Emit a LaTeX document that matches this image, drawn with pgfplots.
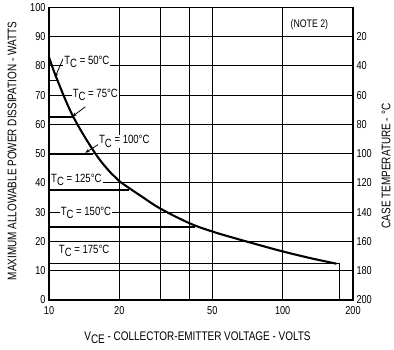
\documentclass[border=0pt]{standalone}
\usepackage{fontspec}
\setmainfont{Liberation Sans}[FakeStretch=0.8]
\usepackage{pgfplots}
\pgfplotsset{compat=1.18}
\usetikzlibrary{arrows.meta}
\pgfplotstableread{
V P
10 83
10.8 75.6
12.7 62.6
15.8 50
18.4 43.4
20 40.6
25 35.3
30 31.2
40 26.2
50 23.4
60 21.5
80 18.7
100 16.6
131.5 14.3
170 12.4
}\curve
\begin{document}
\begin{tikzpicture}
\begin{axis}[
  at={(0,0)}, anchor=south west,
  scale only axis, width=304bp, height=292.7bp,
  xmode=log, xmin=10, xmax=200, ymin=0, ymax=100,
  xtick={10,20,30,40,50,100,200}, xticklabels={10,20,,,50,100,200},
  ytick={0,10,...,100},
  xtick pos=bottom, ytick pos=left,
  grid=major, major grid style={black, line width=0.9pt},
  axis line style={black, line width=1.5pt},
  tick style={draw=none},
  ticklabel style={font=\fontsize{11.5}{12}\selectfont},
  /pgf/number format/assume math mode=true,
  xticklabel style={yshift=-3bp},
  clip=false,
]
\addplot[black, line width=2.1pt, smooth, tension=0.6] table[x=V,y=P] {\curve};
\addplot[black, line width=1.8pt] coordinates {(10,75) (10.85,75)};
\addplot[black, line width=1.8pt] coordinates {(10,62.5) (12.75,62.5)};
\addplot[black, line width=1.8pt] coordinates {(10,50) (15.4,50)};
\addplot[black, line width=1.8pt] coordinates {(10,37.5) (22,37.5)};
\addplot[black, line width=1.8pt] coordinates {(10,25) (42,25)};
\addplot[black, line width=1.8pt] coordinates {(10,12.5) (175,12.5) (175,0)};
\draw[line width=0.8pt, -{Stealth[length=4.5pt,width=3.5pt]}] (axis cs:11.65,83.5) -- (axis cs:10.6,76);
\draw[line width=0.8pt, -{Stealth[length=4.5pt,width=3.5pt]}] (axis cs:14.3,66) -- (axis cs:12.6,62.7);
\draw[line width=0.8pt, -{Stealth[length=4.5pt,width=3.5pt]}] (axis cs:16.9,54) -- (axis cs:14.3,50.3);
\tikzset{tc/.style={fill=white, inner sep=1pt, anchor=west, font=\fontsize{12}{13}\selectfont}}
\node[tc] at (axis cs:11.5,81.3) {T\raisebox{-0.5ex}{C} = 50°C};
\node[tc] at (axis cs:12.5,70) {T\raisebox{-0.5ex}{C} = 75°C};
\node[tc] at (axis cs:16.2,54.2) {T\raisebox{-0.5ex}{C} = 100°C};
\node[tc] at (axis cs:10.1,41) {T\raisebox{-0.5ex}{C} = 125°C};
\node[tc] at (axis cs:11.1,29.7) {T\raisebox{-0.5ex}{C} = 150°C};
\node[tc] at (axis cs:10.9,16.7) {T\raisebox{-0.5ex}{C} = 175°C};
\node[font=\fontsize{11}{12}\selectfont, anchor=east] at (axis cs:162,94) {(NOTE 2)};
\end{axis}
\begin{axis}[
  at={(0,0)}, anchor=south west,
  scale only axis, width=304bp, height=292.7bp,
  xmode=log, xmin=10, xmax=200, ymin=0, ymax=100,
  hide x axis, axis y line*=right,
  axis line style={black, line width=1.5pt},
  ytick={0,10,...,90}, yticklabels={200,180,160,140,120,100,80,60,40,20},
  tick style={draw=none},
  ticklabel style={font=\fontsize{11.5}{12}\selectfont},
]
\addplot[draw=none] coordinates {(10,0)};
\end{axis}
\node[rotate=90, font=\fontsize{12.5}{13}\selectfont] at (-37bp,149bp) {MAXIMUM ALLOWABLE POWER DISSIPATION - WATTS};
\node[rotate=90, font=\fontsize{12.5}{13}\selectfont] at (337bp,134bp) {CASE TEMPERATURE - °C};
\node[font=\fontsize{12.5}{13}\selectfont] at (148.5bp,-38bp) {V\raisebox{-0.5ex}{CE} - COLLECTOR-EMITTER VOLTAGE - VOLTS};
\pgfresetboundingbox
\path (-49bp,-50bp) rectangle (345bp,300bp);
\end{tikzpicture}
\end{document}
